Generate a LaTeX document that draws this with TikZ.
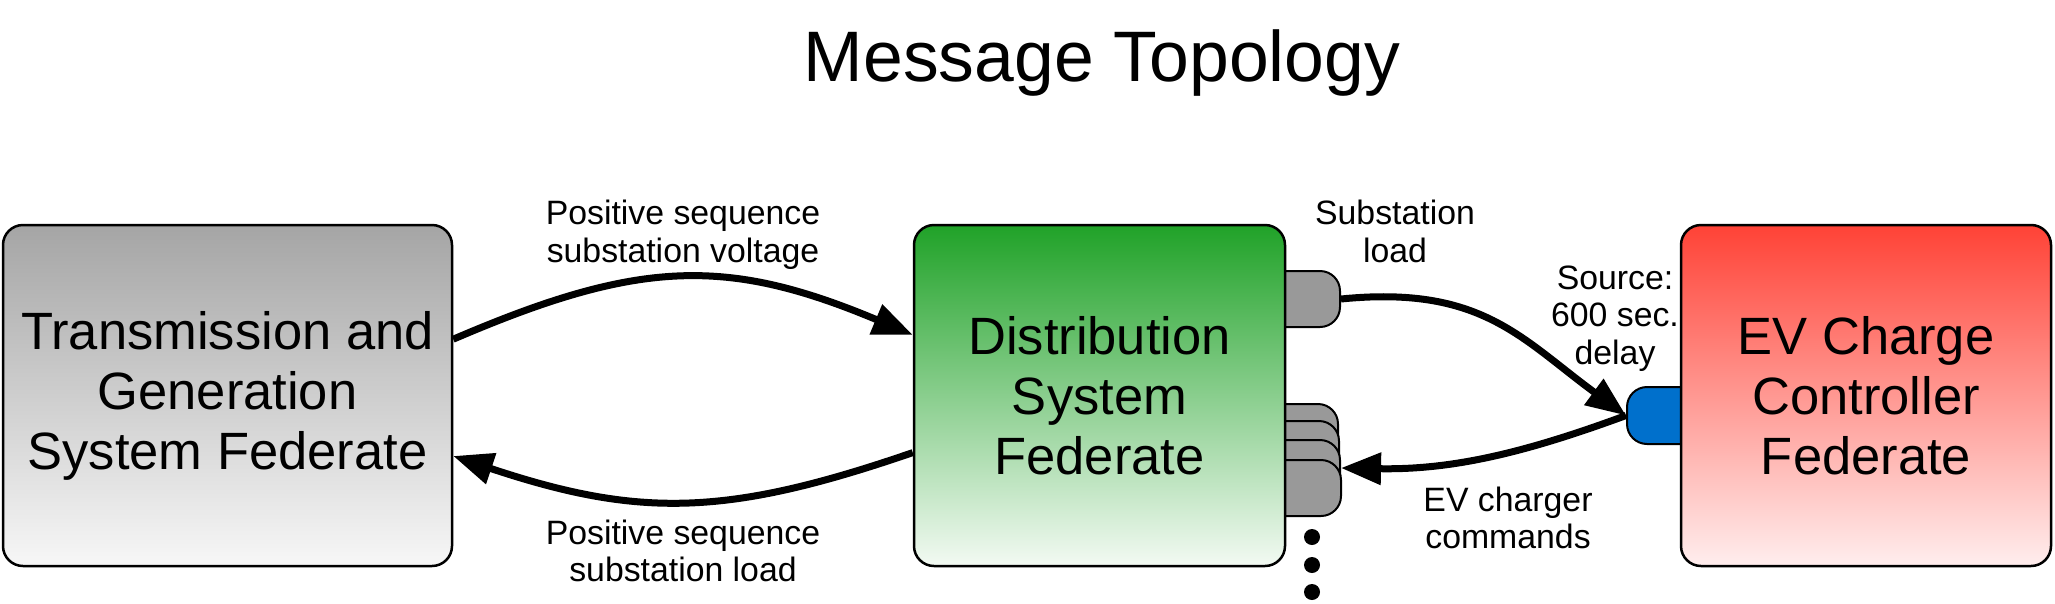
\documentclass[tikz,border=0pt]{standalone}
\usepackage{fontspec}
\setmainfont{Liberation Sans}
\usetikzlibrary{arrows.meta}
\definecolor{tgtop}{RGB}{165,165,165}
\definecolor{tgbot}{RGB}{247,247,247}
\definecolor{dstop}{RGB}{32,162,40}
\definecolor{dsbot}{RGB}{243,250,243}
\definecolor{evtop}{RGB}{255,66,54}
\definecolor{evbot}{RGB}{255,238,238}
\definecolor{tabgray}{RGB}{153,153,153}
\definecolor{tabblue}{RGB}{0,112,204}
\begin{document}
\begin{tikzpicture}[x=1pt,y=-1pt,
  fed/.style={draw=black, line width=2.5pt, rounded corners=20pt, minimum height=341pt,
    align=center, inner sep=0pt, font=\fontsize{52.5}{60}\selectfont},
  tabshape/.style={draw=black, line width=2pt, rounded corners=20pt, minimum width=75pt,
    minimum height=56pt, inner sep=0pt},
  msg/.style={line width=7pt, -{Triangle[length=40pt,width=31pt]}},
  lbl/.style={font=\fontsize{33.8}{37.5}\selectfont, align=center, inner sep=0pt},
  dotmark/.style={circle, fill=black, minimum size=16pt, inner sep=0pt}
]
\useasboundingbox (0,0) rectangle (2055,603);

% title
\node[anchor=base, inner sep=0pt, font=\fontsize{71.5}{80}\selectfont] (title) at (1102,81) {Message Topology};

% tabs (behind boxes)
\node[tabshape, fill=tabgray] (subtab) at (1302.5,299) {};
\node[tabshape, fill=tabgray] (tabA) at (1300.5,432) {};
\node[tabshape, fill=tabgray] (tabB) at (1301.5,449) {};
\node[tabshape, fill=tabgray] (tabC) at (1302.5,468) {};
\node[tabshape, fill=tabgray] (tabD) at (1303.5,488) {};
\node[tabshape, fill=tabblue, minimum width=73pt, minimum height=57pt] (bluetab) at (1663.5,415.5) {};

% federates
\node[fed, minimum width=449pt, top color=tgtop, bottom color=tgbot] (tg) at (227.5,395.5)
  {Transmission and\\Generation\\System Federate};
\node[fed, minimum width=371pt, top color=dstop, bottom color=dsbot] (dg) at (1099.5,395.5)
  {Distribution\\System\\Federate};
\node[fed, minimum width=370pt, top color=evtop, bottom color=evbot] (ev) at (1866,395.5)
  {EV Charge\\Controller\\Federate};

% dots
\node[dotmark] (d1) at (1312,537) {};
\node[dotmark] (d2) at (1312,565) {};
\node[dotmark] (d3) at (1312,592) {};

% messages
\draw[msg] (tg.14) .. controls +(186,-80) and +(-186,-78) .. (dg.162.5);
\draw[msg] (dg.197) .. controls +(-186,64) and +(186,62) .. (tg.-15);
\draw[msg] (subtab.east) .. controls +(140,-14) and +(-105,-77) .. (bluetab.west);
\draw[msg] (bluetab.west) .. controls +(-103,38) and +(110,2) .. (tabC.east);

% labels
\node[lbl] (l1) at (683,235) {Positive sequence\\substation voltage};
\node[lbl] (l2) at (683,551) {Positive sequence\\substation load};
\node[lbl] (l3) at (1395,231.5) {Substation\\load};
\node[lbl] (l4) at (1615,318.5) {Source:\\600 sec.\\delay};
\node[lbl] (l5) at (1508,518) {EV charger\\commands};
\end{tikzpicture}
\end{document}
